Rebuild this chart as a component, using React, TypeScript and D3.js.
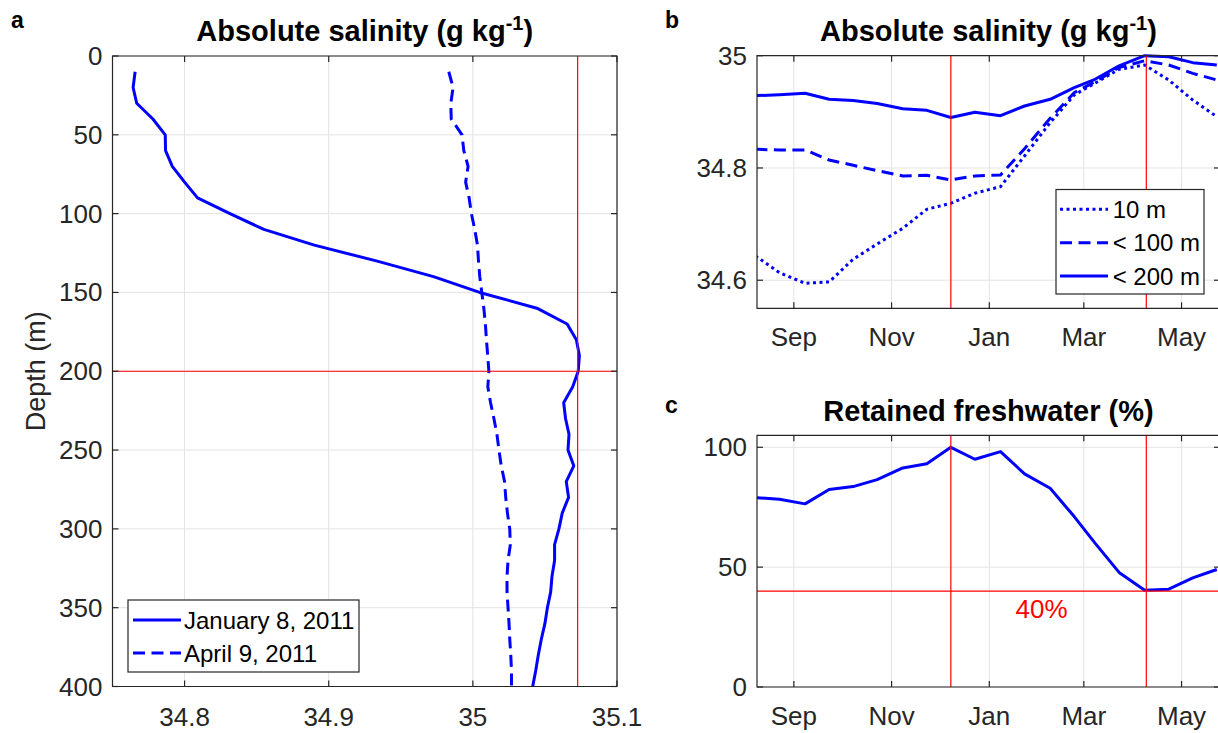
import React from "react";
import * as d3 from "d3";

// ---- panel a: salinity profiles ----
const depthLevels = [10, 20, 30, 40, 50, 60, 70, 80, 90, 100, 110, 120, 130, 140, 150, 160, 170, 180, 190, 200,
  210, 220, 230, 240, 250, 260, 270, 280, 290, 300, 310, 320, 330, 340, 350, 360, 370, 380, 390, 400];
const janSalinity = [34.7657, 34.7643, 34.7668, 34.778, 34.7866, 34.7868, 34.7915, 34.8, 34.809, 34.8315,
  34.855, 34.89, 34.933, 34.9727, 35.0047, 35.0444, 35.0654, 35.0718, 35.0739, 35.0731,
  35.0692, 35.063, 35.0643, 35.0667, 35.066, 35.07, 35.0648, 35.0664, 35.062, 35.0597,
  35.0567, 35.0567, 35.0549, 35.054, 35.0517, 35.05, 35.0475, 35.0454, 35.0436, 35.0415];
const aprSalinity = [34.9833, 34.9863, 34.9847, 34.985, 34.9925, 34.9937, 34.9967, 34.995, 34.9974, 34.999,
  35.0013, 35.0032, 35.0039, 35.0048, 35.0062, 35.0076, 35.0087, 35.0094, 35.0103, 35.0111,
  35.0104, 35.0123, 35.0146, 35.0167, 35.0181, 35.0197, 35.022, 35.0228, 35.024, 35.0256,
  35.026, 35.0244, 35.0237, 35.0237, 35.0244, 35.0251, 35.0256, 35.0263, 35.0268, 35.0268];
const depthTicks = [0, 50, 100, 150, 200, 250, 300, 350, 400];
const salTicksA = [34.8, 34.9, 35, 35.1];
const maxSalinity = 35.0727;
const maxDepth = 200;

// ---- panels b, c: time series ----
const sampleDates = ["2010-08-08", "2010-08-23", "2010-09-08", "2010-09-23", "2010-10-08", "2010-10-23",
  "2010-11-08", "2010-11-23", "2010-12-08", "2010-12-23", "2011-01-08", "2011-01-23", "2011-02-08",
  "2011-02-23", "2011-03-08", "2011-03-23", "2011-04-08", "2011-04-23", "2011-05-08", "2011-05-23"];
const sal10m = [34.6433, 34.6135, 34.5946, 34.597, 34.6373, 34.6646, 34.6926, 34.7264, 34.7371, 34.755,
  34.7667, 34.8214, 34.8807, 34.93, 34.951, 34.9757, 34.9834, 34.9567, 34.921, 34.8914];
const sal100m = [34.8333, 34.832, 34.832, 34.8143, 34.8048, 34.7952, 34.7858, 34.787, 34.7786, 34.7858,
  34.7875, 34.8344, 34.8885, 34.934, 34.9537, 34.979, 34.991, 34.9834, 34.9686, 34.9567];
const sal200m = [34.9288, 34.9305, 34.933, 34.9223, 34.92, 34.915, 34.9056, 34.9027, 34.89, 34.8992,
  34.8932, 34.9104, 34.9223, 34.943, 34.958, 34.982, 35.0, 34.998, 34.9876, 34.9834];
const retained = [79.0, 78.3, 76.4, 82.4, 83.6, 86.5, 91.4, 93.1, 100, 95.0,
  98.2, 88.9, 82.9, 71.1, 60.0, 47.8, 40.4, 40.8, 45.5, 49.0];
const salTicksB = [34.6, 34.8, 35];
const retainedTicks = [0, 50, 100];
const monthTicks = ["2010-09-01", "2010-11-01", "2011-01-01", "2011-03-01", "2011-05-01"];
const monthNames = ["Sep", "Nov", "Jan", "Mar", "May"];
const markDates = ["2010-12-08", "2011-04-09"];
const threshold = 40;

const parse = d3.timeParse("%Y-%m-%d");
const FONT = "'Liberation Sans', Arial, Helvetica, sans-serif";
const AX = "#262626";
const GRID = "#e3e3e3";
const BLUE = "#0000ff";
const RED = "#ff0000";
const TICK_FS = 26;
const numFmt = (v) => String(+v.toFixed(2));

function Frame({ x0, x1, y0, y1, xt, yt }) {
  const tl = 6;
  return (
    <g>
      <path d={`M${x0},${y0}H${x1}V${y1}H${x0}Z`} fill="none" stroke={AX} strokeWidth={1.2} />
      {xt.map((x, i) => (
        <g key={"x" + i}>
          <line x1={x} x2={x} y1={y1} y2={y1 - tl} stroke={AX} strokeWidth={1.2} />
          <line x1={x} x2={x} y1={y0} y2={y0 + tl} stroke={AX} strokeWidth={1.2} />
        </g>
      ))}
      {yt.map((y, i) => (
        <g key={"y" + i}>
          <line x1={x0} x2={x0 + tl} y1={y} y2={y} stroke={AX} strokeWidth={1.2} />
          <line x1={x1} x2={x1 - tl} y1={y} y2={y} stroke={AX} strokeWidth={1.2} />
        </g>
      ))}
    </g>
  );
}

function Grid({ x0, x1, y0, y1, xt, yt }) {
  return (
    <g stroke={GRID} strokeWidth={1}>
      {xt.map((x, i) => <line key={"gx" + i} x1={x} x2={x} y1={y0} y2={y1} />)}
      {yt.map((y, i) => <line key={"gy" + i} x1={x0} x2={x1} y1={y} y2={y} />)}
    </g>
  );
}

function Title({ x, y, children, sup }) {
  return (
    <text x={x} y={y} textAnchor="middle" fontWeight="bold" fontSize={29} fill="#000">
      {children}
      {sup && <tspan fontSize={20} dy={-11}>-1</tspan>}
      {sup && <tspan dy={11}>)</tspan>}
    </text>
  );
}

export default function App() {
  // panel a
  const A = { x0: 112.5, x1: 617, y0: 56, y1: 686.5 };
  const xA = d3.scaleLinear().domain([34.75, 35.1]).range([A.x0, A.x1]);
  const yA = d3.scaleLinear().domain([0, 400]).range([A.y0, A.y1]);
  const profile = d3.line().x((d) => xA(d[1])).y((d) => yA(d[0]));
  const janPts = depthLevels.map((d, i) => [d, janSalinity[i]]);
  const aprPts = depthLevels.map((d, i) => [d, aprSalinity[i]]);

  // panels b, c
  const B = { x0: 757, x1: 1220, y0: 55.7, y1: 308.3 };
  const C = { x0: 757, x1: 1220, y0: 435.3, y1: 687 };
  const xT = d3.scaleTime().domain([parse("2010-08-09"), parse("2011-05-25")]).range([B.x0, B.x1]);
  const yB = d3.scaleLinear().domain([34.55, 35]).range([B.y1, B.y0]);
  const yC = d3.scaleLinear().domain([0, 105]).range([C.y1, C.y0]);
  const dates = sampleDates.map(parse);
  const lineB = d3.line().x((d) => xT(d[0])).y((d) => yB(d[1]));
  const lineC = d3.line().x((d) => xT(d[0])).y((d) => yC(d[1]));
  const ser = (vals) => dates.map((t, i) => [t, vals[i]]);
  const mt = monthTicks.map((s) => xT(parse(s)));
  const marks = markDates.map((s) => xT(parse(s)));

  const axA = { ...A, xt: salTicksA.map(xA), yt: depthTicks.map(yA) };
  const axB = { ...B, xt: mt, yt: salTicksB.map(yB) };
  const axC = { ...C, xt: mt, yt: retainedTicks.map(yC) };

  return (
    <svg width={1218} height={733} style={{ position: "absolute", left: 0, top: 0, background: "#fff" }}
      fontFamily={FONT}>
      <defs>
        <clipPath id="clipB"><rect x={B.x0} y={B.y0 - 2} width={B.x1 - B.x0} height={B.y1 - B.y0 + 2} /></clipPath>
        <clipPath id="clipC"><rect x={C.x0} y={C.y0} width={C.x1 - C.x0} height={C.y1 - C.y0} /></clipPath>
      </defs>
      <rect width={1218} height={733} fill="#fff" />

      {/* ---------- panel a ---------- */}
      <Grid {...axA} />
      <path d={profile(janPts)} fill="none" stroke={BLUE} strokeWidth={3} strokeLinejoin="round" />
      <path d={profile(aprPts)} fill="none" stroke={BLUE} strokeWidth={3} strokeDasharray="12,6.5" />
      <line x1={xA(maxSalinity)} x2={xA(maxSalinity)} y1={A.y0} y2={A.y1} stroke={RED} strokeWidth={1.2} />
      <line x1={A.x0} x2={A.x1} y1={yA(maxDepth)} y2={yA(maxDepth)} stroke={RED} strokeWidth={1.2} />
      <Frame {...axA} />
      {salTicksA.map((v, i) => (
        <text key={i} x={xA(v)} y={A.y1 + 39} textAnchor="middle" fontSize={TICK_FS} fill={AX}>{numFmt(v)}</text>
      ))}
      {depthTicks.map((v, i) => (
        <text key={i} x={A.x0 - 10} y={yA(v) + 9} textAnchor="end" fontSize={TICK_FS} fill={AX}>{v}</text>
      ))}
      <text transform={`translate(45,${(A.y0 + A.y1) / 2}) rotate(-90)`} textAnchor="middle" fontSize={27} fill={AX}>Depth (m)</text>
      <Title x={(A.x0 + A.x1) / 2} y={41} sup>Absolute salinity (g kg</Title>
      <text x={11} y={28} fontWeight="bold" fontSize={23}>a</text>
      <g>
        <rect x={128} y={600} width={231} height={72} fill="#fff" stroke={AX} strokeWidth={1.2} />
        <line x1={133} x2={181} y1={620} y2={620} stroke={BLUE} strokeWidth={3} />
        <line x1={133} x2={181} y1={653} y2={653} stroke={BLUE} strokeWidth={3} strokeDasharray="12,6.5" />
        <text x={184} y={628.5} fontSize={24}>January 8, 2011</text>
        <text x={184} y={661.5} fontSize={24}>April 9, 2011</text>
      </g>

      {/* ---------- panel b ---------- */}
      <Grid {...axB} />
      <g clipPath="url(#clipB)" fill="none" stroke={BLUE} strokeWidth={3}>
        <path d={lineB(ser(sal10m))} strokeDasharray="3,3.5" />
        <path d={lineB(ser(sal100m))} strokeDasharray="12,6.5" />
        <path d={lineB(ser(sal200m))} strokeLinejoin="round" />
      </g>
      {marks.map((x, i) => (
        <line key={i} x1={x} x2={x} y1={B.y0} y2={B.y1} stroke={RED} strokeWidth={1.2} />
      ))}
      <Frame {...axB} />
      {monthNames.map((m, i) => (
        <text key={i} x={mt[i]} y={B.y1 + 38} textAnchor="middle" fontSize={TICK_FS} fill={AX}>{m}</text>
      ))}
      {salTicksB.map((v, i) => (
        <text key={i} x={B.x0 - 10} y={yB(v) + 9} textAnchor="end" fontSize={TICK_FS} fill={AX}>{numFmt(v)}</text>
      ))}
      <Title x={(B.x0 + B.x1) / 2} y={41} sup>Absolute salinity (g kg</Title>
      <text x={665} y={28} fontWeight="bold" fontSize={23}>b</text>
      <g>
        <rect x={1056} y={189.5} width={148} height={104.5} fill="#fff" stroke={AX} strokeWidth={1.2} />
        <line x1={1060} x2={1108} y1={209.3} y2={209.3} stroke={BLUE} strokeWidth={3} strokeDasharray="3,3.5" />
        <line x1={1060} x2={1108} y1={242.7} y2={242.7} stroke={BLUE} strokeWidth={3} strokeDasharray="12,6.5" />
        <line x1={1060} x2={1108} y1={276} y2={276} stroke={BLUE} strokeWidth={3} />
        <text x={1112.7} y={217.8} fontSize={24}>10 m</text>
        <text x={1112.7} y={251.2} fontSize={24}>&lt; 100 m</text>
        <text x={1112.7} y={284.5} fontSize={24}>&lt; 200 m</text>
      </g>

      {/* ---------- panel c ---------- */}
      <Grid {...axC} />
      <g clipPath="url(#clipC)">
        <path d={lineC(ser(retained))} fill="none" stroke={BLUE} strokeWidth={3} strokeLinejoin="round" />
      </g>
      {marks.map((x, i) => (
        <line key={i} x1={x} x2={x} y1={C.y0} y2={C.y1} stroke={RED} strokeWidth={1.2} />
      ))}
      <line x1={C.x0} x2={C.x1} y1={yC(threshold)} y2={yC(threshold)} stroke={RED} strokeWidth={1.2} />
      <text x={1041.5} y={yC(threshold) + 27} textAnchor="middle" fontSize={26} fill={RED}>{threshold}%</text>
      <Frame {...axC} />
      {monthNames.map((m, i) => (
        <text key={i} x={mt[i]} y={C.y1 + 38} textAnchor="middle" fontSize={TICK_FS} fill={AX}>{m}</text>
      ))}
      {retainedTicks.map((v, i) => (
        <text key={i} x={C.x0 - 10} y={yC(v) + 9} textAnchor="end" fontSize={TICK_FS} fill={AX}>{v}</text>
      ))}
      <Title x={(C.x0 + C.x1) / 2} y={421}>Retained freshwater (%)</Title>
      <text x={665} y={413} fontWeight="bold" fontSize={23}>c</text>
    </svg>
  );
}
